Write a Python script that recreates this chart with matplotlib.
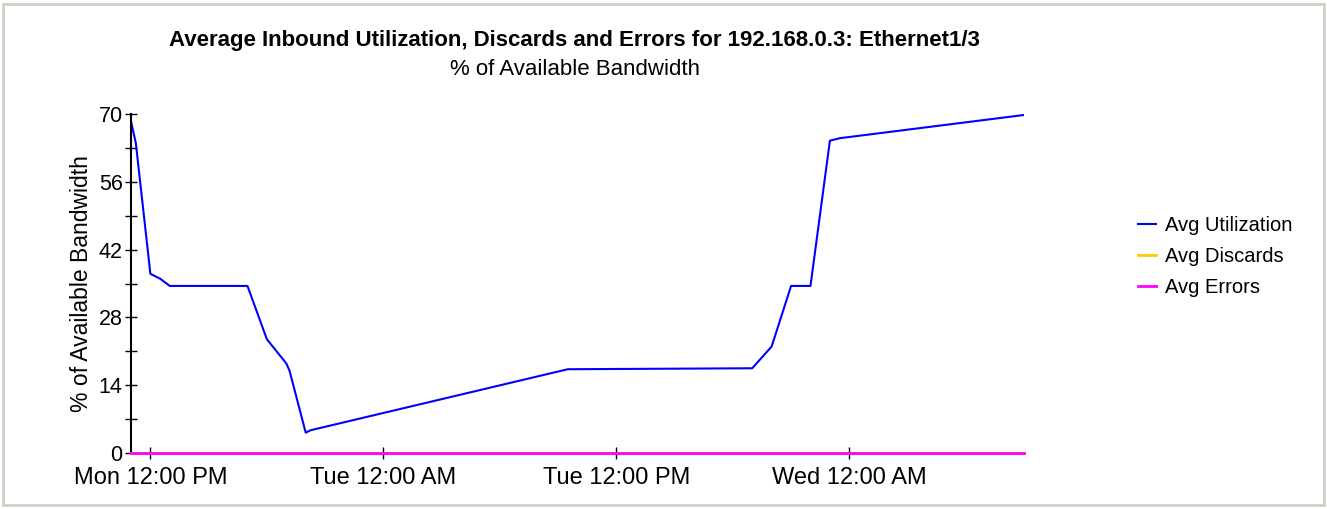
import matplotlib
matplotlib.use("Agg")
import matplotlib.pyplot as plt
import pandas as pd

plt.rcParams['font.family'] = ['Liberation Sans', 'DejaVu Sans']

# average utilization samples
util_times = ['2024-01-01 11:00', '2024-01-01 11:15', '2024-01-01 12:00', '2024-01-01 12:30',
              '2024-01-01 13:00', '2024-01-01 17:00', '2024-01-01 18:00', '2024-01-01 19:00',
              '2024-01-01 19:10', '2024-01-01 20:00', '2024-01-01 20:15', '2024-01-02 09:30',
              '2024-01-02 19:00', '2024-01-02 20:00', '2024-01-02 21:00', '2024-01-02 22:00',
              '2024-01-02 23:00', '2024-01-02 23:30', '2024-01-03 09:00']
util_vals = [68.5, 64, 37, 36, 34.5, 34.5, 23.5, 18.5, 17, 4.2, 4.7, 17.3,
             17.5, 22, 34.5, 34.5, 64.5, 65, 69.8]
flat_times = ['2024-01-01 11:00', '2024-01-03 09:00']
discard_vals = [0, 0]
error_vals = [0, 0]

tick_times = ['2024-01-01 12:00', '2024-01-02 00:00', '2024-01-02 12:00', '2024-01-03 00:00']
tick_labels = ['Mon 12:00 PM', 'Tue 12:00 AM', 'Tue 12:00 PM', 'Wed 12:00 AM']

t_util = pd.to_datetime(util_times)
t_flat = pd.to_datetime(flat_times)

fig = plt.figure(figsize=(13.27, 5.09), dpi=100)
ax = fig.add_axes([0.0987, 0.110, 0.673, 0.666])

ax.plot(t_util, util_vals, color='#0000ff', lw=1.5, label='Avg Utilization')
ax.plot(t_flat, discard_vals, color='#ffcc00', lw=2, label='Avg Discards', zorder=5, clip_on=False)
ax.plot(t_flat, error_vals, color='#ff00ff', lw=2, label='Avg Errors', zorder=6, clip_on=False)

ax.set_xlim(t_flat[0], t_flat[1])
ax.set_ylim(0, 70)
ax.set_yticks(range(0, 71, 14))
ax.set_yticks(range(7, 70, 14), minor=True)
ax.set_xticks(pd.to_datetime(tick_times))
ax.set_xticklabels(tick_labels)
ax.tick_params(axis='y', direction='inout', labelsize=15.5, length=8, width=1, pad=2)
ax.tick_params(axis='y', which='minor', direction='inout', length=8, width=1)
ax.tick_params(axis='x', direction='inout', labelsize=17, length=8, width=1, pad=6)

for s in ['top', 'right']:
    ax.spines[s].set_visible(False)
ax.spines['left'].set_linewidth(1.5)
ax.spines['bottom'].set_linewidth(1)

ax.set_ylabel('% of Available Bandwidth', fontsize=16.5, labelpad=4)

fig.text(0.433, 0.921, 'Average Inbound Utilization, Discards and Errors for 192.168.0.3: Ethernet1/3',
         ha='center', va='center', fontsize=16, fontweight='bold')
fig.text(0.433, 0.864, '% of Available Bandwidth', ha='center', va='center', fontsize=16)

fig.legend(loc='upper left', bbox_to_anchor=(0.844, 0.612), frameon=False, fontsize=14.5,
           handlelength=0.9, handletextpad=0.45, labelspacing=0.6)

# light grey frame around the image
fig.patches.append(plt.Rectangle((0.002, 0.008), 0.996, 0.985, transform=fig.transFigure,
                                 fill=False, edgecolor='#d4d0c8', lw=2))

fig.savefig('out.png', dpi=100)
